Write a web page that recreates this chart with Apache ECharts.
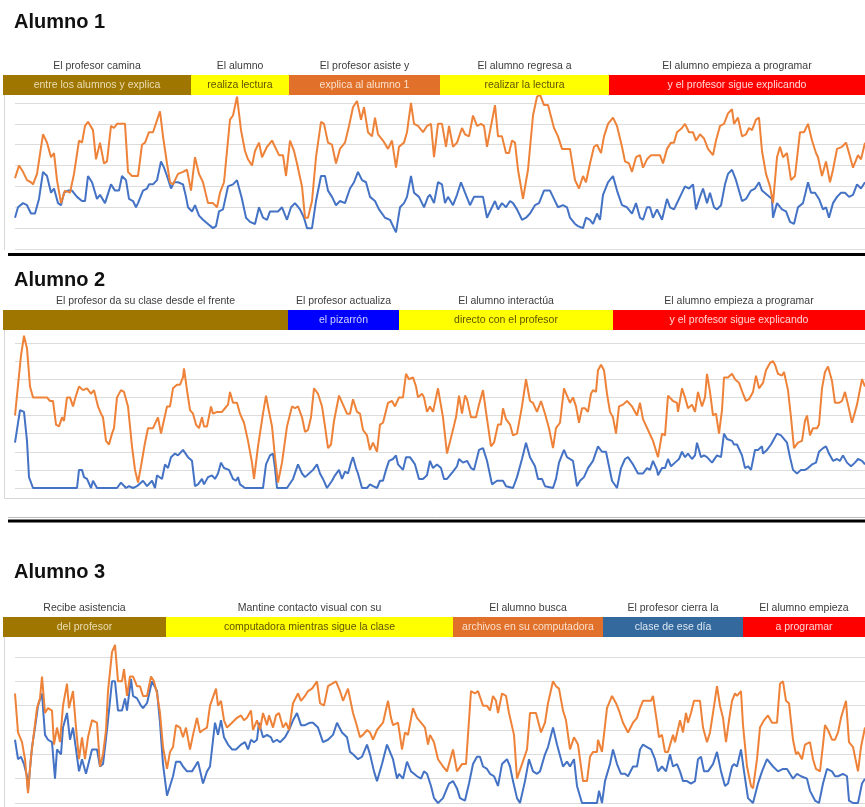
<!DOCTYPE html>
<html lang="es">
<head>
<meta charset="UTF-8">
<title>Alumnos</title>
<style>
    html, body { margin: 0; padding: 0; background: #fff; }
    #chart { width: 865px; height: 807px; }
</style>
</head>
<body>
<div id="chart"></div>
<script src="https://cdn.jsdelivr.net/npm/echarts@6/dist/echarts.min.js"></script>
<script>
// [tiempo, valor] por alumno; naranja = serie superior, azul = serie inferior
var orange1 = [[15,24],[19,30],[23,27],[27,23],[31,22],[33,21],[37,26],[43,45],[47,41],[51,34],[54,36],[57,23],[61,12],[65,18],[70,17],[74,26],[79,42],[82,41],[85,49],[88,51],[93,47],[96,33],[100,41],[104,31],[107,32],[111,49],[114,48],[117,50],[125,50],[128,27],[132,25],[138,25],[142,40],[145,41],[149,46],[153,46],[160,56],[163,44],[167,31],[170,22],[173,21],[178,26],[183,27],[187,28],[191,18],[195,34],[199,26],[203,22],[208,12],[213,12],[217,10],[220,17],[224,22],[230,52],[233,54],[237,63],[241,47],[245,37],[248,33],[252,30],[255,37],[259,41],[262,34],[267,39],[272,42],[275,39],[279,35],[283,35],[286,25],[290,42],[294,37],[297,31],[302,20],[305,5],[308,5],[312,13],[316,34],[321,51],[324,50],[328,41],[332,40],[336,31],[340,38],[345,41],[349,49],[353,58],[357,61],[361,52],[364,58],[368,46],[372,44],[375,53],[378,45],[383,42],[388,38],[392,42],[396,29],[399,39],[404,41],[407,46],[411,60],[414,50],[418,49],[423,46],[427,49],[431,50],[434,34],[438,50],[442,50],[446,39],[449,49],[453,39],[457,41],[462,48],[465,45],[469,44],[473,54],[477,49],[481,50],[484,49],[487,39],[495,59],[498,44],[502,44],[506,36],[509,36],[512,42],[515,41],[518,28],[523,14],[528,28],[533,54],[537,63],[540,64],[544,59],[548,59],[554,48],[558,44],[562,38],[567,38],[570,38],[575,23],[579,19],[583,25],[586,22],[590,31],[594,39],[597,40],[601,36],[604,44],[608,50],[613,53],[617,49],[622,39],[625,32],[629,31],[632,27],[636,34],[640,35],[643,29],[647,33],[651,35],[657,35],[660,35],[663,31],[667,38],[671,41],[674,41],[677,46],[682,48],[685,50],[689,46],[693,46],[696,42],[700,45],[704,43],[708,38],[713,35],[716,42],[720,49],[724,50],[728,55],[732,57],[734,50],[738,53],[742,44],[746,45],[749,48],[752,47],[756,52],[759,53],[762,37],[766,26],[770,20],[773,12],[777,34],[780,39],[783,34],[787,36],[791,23],[795,25],[800,46],[804,46],[808,50],[812,42],[816,36],[818,34],[822,25],[826,32],[830,22],[833,28],[837,38],[842,39],[846,41],[849,36],[853,29],[858,35],[861,33],[865,41]];
var blue1 = [[15,5],[18,10],[23,12],[27,11],[31,7],[35,7],[39,14],[43,27],[47,25],[51,17],[54,19],[58,12],[61,11],[64,17],[68,18],[72,18],[77,15],[82,13],[85,13],[88,25],[92,22],[97,14],[100,16],[105,12],[107,12],[111,21],[115,18],[119,18],[122,25],[126,23],[129,14],[133,13],[136,10],[138,12],[143,18],[147,19],[149,21],[153,21],[157,23],[161,32],[164,29],[167,25],[171,19],[174,22],[178,22],[183,21],[186,15],[188,10],[192,8],[195,11],[199,6],[203,4],[208,2],[213,0],[216,1],[219,8],[223,9],[228,20],[233,21],[237,23],[242,14],[246,5],[250,3],[255,2],[259,10],[263,5],[267,4],[270,8],[274,8],[278,8],[282,10],[287,4],[291,10],[295,12],[300,9],[304,5],[307,0],[312,0],[316,13],[321,25],[325,25],[328,18],[332,15],[336,11],[340,13],[345,12],[350,19],[354,22],[358,27],[362,23],[366,22],[370,15],[375,13],[379,9],[385,5],[390,4],[396,-2],[400,10],[404,12],[407,15],[411,25],[414,17],[419,15],[424,10],[428,15],[430,16],[434,12],[438,22],[442,21],[445,12],[448,15],[453,11],[457,16],[461,22],[465,17],[470,11],[474,15],[478,15],[483,15],[487,5],[492,10],[495,13],[498,9],[502,12],[506,10],[510,13],[513,12],[517,9],[522,4],[526,5],[530,7],[535,11],[539,12],[544,18],[550,18],[553,15],[558,10],[563,11],[567,10],[570,5],[575,2],[578,1],[583,0],[586,5],[590,4],[593,2],[597,7],[600,4],[603,16],[608,22],[613,25],[617,18],[622,11],[627,10],[632,7],[636,12],[640,5],[643,4],[647,10],[650,10],[653,5],[657,9],[662,4],[667,14],[670,10],[674,9],[678,13],[682,17],[685,20],[689,19],[693,21],[696,9],[700,15],[703,19],[707,12],[710,17],[714,10],[717,9],[721,11],[725,21],[728,26],[732,28],[736,23],[742,13],[746,14],[751,18],[755,19],[759,22],[762,18],[767,16],[772,14],[773,5],[777,12],[782,9],[786,8],[790,3],[794,2],[798,10],[803,12],[808,22],[811,17],[815,17],[819,14],[823,9],[826,10],[829,5],[833,12],[837,15],[841,17],[845,17],[849,15],[853,16],[857,21],[861,19],[865,22]];

var orange2 = [[15,40],[21,73],[24,84],[27,77],[30,56],[33,50],[47,50],[50,48],[53,48],[56,35],[59,34],[62,39],[64,37],[67,50],[70,50],[73,45],[76,51],[79,56],[83,54],[87,55],[91,52],[94,54],[98,45],[101,41],[103,39],[106,26],[109,24],[112,30],[114,33],[117,50],[121,54],[124,53],[128,45],[132,23],[135,10],[138,3],[141,12],[145,25],[148,33],[153,33],[155,33],[158,39],[161,30],[163,35],[167,45],[170,45],[173,55],[177,57],[180,57],[183,61],[184,66],[187,54],[190,43],[193,41],[196,35],[199,33],[202,39],[204,34],[207,34],[211,45],[213,41],[217,42],[222,42],[225,44],[228,46],[230,53],[233,47],[237,47],[240,41],[244,36],[248,26],[252,14],[254,5],[258,23],[263,41],[266,51],[268,45],[272,34],[275,17],[278,3],[282,14],[287,34],[289,35],[292,45],[295,44],[298,45],[302,39],[305,31],[308,32],[311,39],[314,55],[318,52],[322,45],[325,34],[328,22],[331,24],[334,37],[339,51],[343,46],[347,41],[350,41],[353,49],[357,42],[360,41],[363,32],[367,29],[370,21],[373,25],[377,20],[380,35],[383,36],[388,47],[392,48],[395,45],[399,50],[403,50],[406,63],[409,60],[413,61],[416,56],[418,50],[422,52],[424,50],[427,42],[430,45],[433,42],[438,55],[443,39],[447,19],[452,30],[456,39],[459,51],[462,41],[465,51],[467,49],[471,39],[476,39],[479,46],[483,54],[486,42],[491,23],[494,25],[498,35],[501,35],[503,44],[506,38],[510,35],[513,29],[517,30],[522,45],[526,60],[530,48],[533,47],[537,42],[541,48],[545,41],[549,33],[553,22],[556,33],[560,36],[564,55],[567,51],[570,47],[573,50],[576,45],[579,36],[582,44],[585,44],[588,42],[591,52],[593,54],[596,53],[598,65],[601,68],[604,65],[607,52],[610,42],[613,39],[616,30],[619,45],[623,46],[627,48],[632,45],[637,40],[640,47],[643,38],[648,32],[653,26],[658,17],[662,30],[665,29],[668,51],[673,48],[677,47],[678,42],[682,55],[685,50],[688,44],[692,46],[695,42],[698,53],[702,45],[705,50],[707,63],[710,53],[713,40],[716,41],[719,30],[722,43],[724,61],[728,61],[732,63],[735,60],[739,58],[743,52],[746,48],[749,49],[753,53],[756,62],[759,55],[763,58],[766,65],[770,69],[773,70],[775,68],[778,63],[782,62],[784,64],[788,54],[791,39],[794,22],[798,25],[802,26],[805,37],[807,40],[810,29],[813,33],[817,33],[819,35],[822,55],[825,64],[828,67],[832,59],[835,47],[839,47],[842,48],[845,53],[848,46],[852,36],[854,36],[857,46],[862,60],[865,56]];
var blue2 = [[15,25],[20,43],[24,42],[27,26],[29,6],[33,0],[77,0],[79,10],[82,10],[84,6],[87,5],[88,5],[91,0],[93,4],[97,0],[117,0],[121,3],[123,3],[126,0],[129,1],[133,0],[137,1],[139,0],[143,4],[147,1],[149,0],[152,4],[155,0],[157,7],[162,5],[165,13],[168,11],[171,17],[175,19],[178,18],[183,21],[188,17],[192,15],[195,1],[198,2],[202,5],[204,2],[208,6],[212,7],[215,5],[218,8],[221,14],[224,11],[229,10],[233,5],[236,4],[238,6],[240,2],[245,0],[263,0],[266,13],[270,18],[273,19],[275,11],[277,0],[287,0],[293,5],[298,13],[302,8],[305,6],[309,8],[313,10],[317,13],[320,8],[323,5],[327,0],[332,4],[335,7],[339,10],[342,5],[345,9],[348,8],[351,14],[353,17],[356,11],[358,8],[362,0],[367,0],[370,2],[373,1],[377,0],[380,4],[383,4],[386,10],[389,15],[393,16],[396,18],[398,13],[403,10],[406,17],[410,17],[415,13],[419,5],[423,5],[427,7],[430,15],[433,11],[437,13],[441,11],[444,5],[447,5],[453,9],[457,12],[459,16],[463,14],[467,15],[471,11],[474,10],[479,21],[483,22],[487,15],[492,2],[497,4],[503,4],[506,1],[513,0],[517,6],[522,16],[526,25],[530,17],[535,12],[538,5],[542,5],[545,1],[553,0],[556,5],[559,14],[564,21],[567,17],[573,15],[577,1],[580,4],[584,6],[588,11],[593,15],[598,23],[602,20],[606,20],[609,12],[612,4],[614,4],[617,0],[621,11],[625,16],[628,17],[633,13],[638,8],[643,8],[647,11],[650,10],[653,15],[657,10],[658,7],[662,11],[665,11],[668,16],[671,12],[675,14],[679,16],[682,20],[685,17],[688,19],[692,16],[695,18],[697,25],[701,17],[704,18],[707,17],[712,14],[714,15],[717,18],[721,17],[724,30],[727,27],[732,26],[734,24],[737,24],[742,18],[745,11],[748,12],[751,10],[755,21],[758,21],[762,23],[763,19],[767,21],[771,24],[774,27],[777,30],[781,29],[783,30],[787,25],[790,17],[793,10],[797,8],[801,10],[805,10],[808,11],[812,13],[816,14],[819,20],[823,22],[826,23],[829,19],[833,15],[837,16],[840,15],[843,18],[847,14],[851,12],[855,14],[858,16],[862,15],[865,13]];

var orange3 = [[15,45],[18,29],[22,25],[25,18],[28,4],[31,19],[34,29],[37,39],[40,43],[42,52],[45,37],[48,39],[52,38],[54,24],[57,31],[60,25],[63,40],[67,49],[69,39],[73,46],[76,31],[79,18],[82,27],[85,18],[88,27],[92,34],[97,33],[100,15],[103,20],[106,30],[108,46],[112,62],[115,65],[118,50],[122,50],[124,55],[127,44],[130,52],[133,52],[137,48],[140,48],[143,44],[147,44],[151,52],[154,50],[157,45],[160,37],[163,23],[167,14],[170,21],[173,23],[176,32],[180,31],[183,27],[186,31],[190,22],[193,28],[197,35],[200,29],[203,30],[207,31],[210,40],[216,47],[218,40],[221,42],[224,34],[227,31],[232,33],[237,35],[241,36],[244,34],[247,35],[251,38],[253,30],[257,34],[260,30],[263,37],[267,32],[269,36],[273,31],[276,36],[279,37],[283,31],[286,33],[289,30],[293,41],[298,45],[301,42],[305,44],[308,46],[312,47],[317,50],[320,41],[324,40],[328,48],[336,50],[340,46],[343,42],[348,47],[353,37],[356,33],[360,27],[363,28],[367,30],[370,29],[373,26],[377,30],[383,33],[388,42],[391,35],[393,32],[398,33],[402,22],[405,29],[408,28],[413,39],[417,35],[421,33],[425,31],[428,24],[430,28],[434,25],[438,18],[443,15],[447,13],[449,16],[453,22],[457,13],[462,16],[466,16],[471,46],[475,45],[478,46],[483,40],[487,40],[490,38],[493,44],[496,42],[498,37],[502,45],[506,44],[509,37],[514,28],[517,10],[522,16],[527,22],[530,37],[536,37],[541,29],[545,33],[548,41],[553,50],[556,48],[559,47],[563,38],[566,34],[570,22],[574,27],[578,24],[583,9],[587,9],[590,19],[593,21],[597,21],[598,26],[602,21],[607,39],[612,44],[616,41],[619,38],[623,33],[628,29],[633,33],[637,35],[640,39],[643,42],[647,42],[651,42],[653,44],[657,33],[659,27],[662,28],[665,21],[668,21],[673,28],[675,25],[680,34],[683,29],[686,37],[688,33],[691,37],[694,42],[700,42],[703,31],[707,25],[710,29],[713,37],[717,48],[720,40],[723,35],[726,25],[729,34],[732,42],[735,45],[737,44],[741,46],[743,32],[747,15],[751,7],[753,6],[757,18],[760,31],[764,34],[768,36],[772,33],[777,33],[780,49],[783,50],[786,42],[789,41],[793,26],[796,20],[798,21],[802,18],[805,24],[810,25],[813,18],[816,14],[820,13],[823,24],[825,32],[828,30],[832,26],[835,26],[838,29],[841,35],[846,42],[849,25],[853,23],[858,13],[861,23],[865,31]];
var blue3 = [[15,26],[18,18],[21,19],[24,16],[27,11],[28,5],[32,23],[35,31],[38,40],[42,45],[45,28],[48,26],[52,25],[55,10],[57,22],[61,20],[63,31],[67,37],[70,26],[73,31],[76,22],[79,13],[82,18],[86,12],[88,12],[92,22],[97,22],[100,15],[103,16],[107,30],[112,50],[115,50],[118,38],[122,38],[125,43],[127,38],[131,51],[133,44],[137,43],[141,40],[143,39],[147,41],[152,50],[154,50],[157,46],[160,33],[163,16],[167,3],[170,7],[173,11],[176,17],[180,17],[183,15],[187,13],[192,13],[195,15],[198,17],[203,8],[207,13],[210,15],[215,33],[218,28],[221,34],[224,27],[228,24],[232,22],[236,22],[241,24],[245,25],[248,22],[251,26],[254,25],[257,26],[259,33],[263,27],[267,28],[271,27],[273,25],[277,26],[280,25],[285,27],[289,30],[293,34],[297,37],[301,32],[305,32],[310,33],[313,33],[318,31],[323,25],[328,26],[333,28],[337,33],[342,29],[347,27],[350,21],[353,20],[358,18],[362,19],[367,24],[370,20],[374,13],[377,9],[382,16],[387,24],[391,20],[393,18],[397,10],[399,12],[403,10],[407,17],[411,13],[414,12],[417,11],[421,10],[424,13],[427,12],[431,7],[434,2],[438,0],[443,2],[447,6],[449,8],[453,9],[457,6],[460,2],[465,1],[469,8],[473,16],[477,19],[480,19],[483,15],[487,14],[490,12],[494,11],[498,7],[502,16],[507,18],[510,15],[513,9],[517,2],[520,0],[525,9],[529,18],[533,13],[537,12],[540,13],[545,20],[548,23],[553,31],[557,24],[561,18],[563,15],[567,17],[570,15],[574,18],[577,7],[582,0],[597,0],[599,5],[602,0],[605,9],[610,16],[613,22],[617,16],[621,12],[625,12],[628,11],[633,15],[637,15],[640,22],[643,24],[647,23],[651,22],[655,18],[658,13],[662,15],[666,13],[670,20],[673,15],[677,16],[680,13],[683,9],[687,9],[691,8],[695,9],[698,18],[701,19],[704,13],[708,13],[713,16],[717,21],[721,13],[725,7],[728,8],[732,15],[734,16],[737,15],[741,22],[744,13],[748,2],[753,0],[758,8],[762,13],[767,18],[773,15],[778,13],[783,14],[787,14],[789,14],[793,10],[797,12],[801,11],[807,10],[810,5],[815,1],[819,0],[823,8],[827,14],[832,13],[835,11],[838,11],[843,12],[847,11],[849,1],[853,0],[858,0],[862,8],[865,10]];

// fases de la clase (mismo eje de tiempo)
var bandStart1 = [3, 191, 289, 440, 609];
var bandEnd1 = [191, 289, 440, 609, 865];
var bandKind1 = ['cafe', 'amarillo', 'naranja', 'amarillo', 'rojo'];
var bandUpper1 = ['El profesor camina', 'El alumno', 'El profesor asiste y', 'El alumno regresa a', 'El alumno empieza a programar'];
var bandInner1 = ['entre los alumnos y explica', 'realiza lectura', 'explica al alumno 1', 'realizar la lectura', 'y el profesor sigue explicando'];

var bandStart2 = [3, 288, 399, 613];
var bandEnd2 = [288, 399, 613, 865];
var bandKind2 = ['cafe', 'azul', 'amarillo', 'rojo'];
var bandUpper2 = ['El profesor da su clase desde el frente', 'El profesor actualiza', 'El alumno interactúa', 'El alumno empieza a programar'];
var bandInner2 = ['', 'el pizarrón', 'directo con el profesor', 'y el profesor sigue explicando'];

var bandStart3 = [3, 166, 453, 603, 743];
var bandEnd3 = [166, 453, 603, 743, 865];
var bandKind3 = ['cafe', 'amarillo', 'naranja', 'acero', 'rojo'];
var bandUpper3 = ['Recibe asistencia', 'Mantine contacto visual con su', 'El alumno busca', 'El profesor cierra la', 'El alumno empieza'];
var bandInner3 = ['del profesor', 'computadora mientras sigue la clase', 'archivos en su computadora', 'clase de ese día', 'a programar'];

var BAND_FILL = {cafe: '#9F7700', amarillo: '#FFFF00', naranja: '#E0702A', rojo: '#FF0000', azul: '#0000FF', acero: '#34699D'};
var BAND_TEXT = {cafe: '#EADDB4', amarillo: '#5E5400', naranja: '#FCE0CC', rojo: '#FFD6D6', azul: '#D0D0FF', acero: '#DCE6F2'};
var FONT = '10.5px "Liberation Sans", Arial, sans-serif';

var panels = [
    {title: 'Alumno 1', titleTop: 12, top: 103, height: 146, min: -10, max: 60, gap: 28,
        orange: orange1, blue: blue1, start: bandStart1, end: bandEnd1, kind: bandKind1, upper: bandUpper1, inner: bandInner1},
    {title: 'Alumno 2', titleTop: 270, top: 343, height: 145, min: 0, max: 80, gap: 33,
        orange: orange2, blue: blue2, start: bandStart2, end: bandEnd2, kind: bandKind2, upper: bandUpper2, inner: bandInner2},
    {title: 'Alumno 3', titleTop: 562, top: 657, height: 146, min: 0, max: 60, gap: 40,
        orange: orange3, blue: blue3, start: bandStart3, end: bandEnd3, kind: bandKind3, upper: bandUpper3, inner: bandInner3}
];

function bandRenderer(p) {
    return function (params, api) {
        var k = params.dataIndex;
        var x0 = api.coord([api.value(0), p.min])[0];
        var x1 = api.coord([api.value(1), p.min])[0];
        var top = params.coordSys.y - p.gap;
        var cx = (x0 + x1) / 2;
        return {
            type: 'group',
            children: [
                {type: 'rect', shape: {x: x0, y: top, width: x1 - x0, height: 20}, style: {fill: BAND_FILL[p.kind[k]]}},
                {type: 'text', x: cx, y: top + 10, style: {text: p.inner[k], fill: BAND_TEXT[p.kind[k]], font: FONT, align: 'center', verticalAlign: 'middle'}},
                {type: 'text', x: cx, y: top - 9, style: {text: p.upper[k], fill: '#3c3c3c', font: FONT, align: 'center', verticalAlign: 'middle'}}
            ]
        };
    };
}

var grids = [], xAxes = [], yAxes = [], series = [], titles = [];
panels.forEach(function (p, i) {
    titles.push({text: p.title, left: 14, top: p.titleTop, padding: 0,
        textStyle: {fontFamily: 'Liberation Sans', fontSize: 20, fontWeight: 'bold', color: '#111'}});
    grids.push({left: 15, width: 850, top: p.top, height: p.height, outerBoundsMode: 'none'});
    xAxes.push({type: 'value', gridIndex: i, min: 15, max: 865, show: false});
    yAxes.push({type: 'value', gridIndex: i, min: p.min, max: p.max, interval: 10,
        axisLine: {show: false}, axisTick: {show: false}, axisLabel: {show: false},
        splitLine: {show: true, lineStyle: {color: '#dcdcdc', width: 1}}});
    series.push({type: 'line', xAxisIndex: i, yAxisIndex: i, data: p.blue, symbol: 'none', clip: false,
        lineStyle: {color: '#4472C4', width: 2}, itemStyle: {color: '#4472C4'}, z: 3});
    series.push({type: 'line', xAxisIndex: i, yAxisIndex: i, data: p.orange, symbol: 'none', clip: false,
        lineStyle: {color: '#ED8238', width: 2}, itemStyle: {color: '#ED8238'}, z: 4});
    series.push({type: 'custom', xAxisIndex: i, yAxisIndex: i, silent: true, z: 6,
        data: p.start.map(function (s, k) { return [s, p.end[k]]; }),
        renderItem: bandRenderer(p)});
});

var chart = echarts.init(document.getElementById('chart'));
chart.setOption({
    animation: false,
    title: titles,
    grid: grids,
    xAxis: xAxes,
    yAxis: yAxes,
    series: series,
    graphic: [
        {type: 'line', shape: {x1: 4.5, y1: 95, x2: 4.5, y2: 250}, style: {stroke: '#d8d8d8', lineWidth: 1}},
        {type: 'line', shape: {x1: 8, y1: 254.5, x2: 865, y2: 254.5}, style: {stroke: '#000', lineWidth: 3}},
        {type: 'line', shape: {x1: 4.5, y1: 330, x2: 4.5, y2: 498}, style: {stroke: '#d8d8d8', lineWidth: 1}},
        {type: 'line', shape: {x1: 4, y1: 498.5, x2: 865, y2: 498.5}, style: {stroke: '#d8d8d8', lineWidth: 1}},
        {type: 'line', shape: {x1: 8, y1: 517.5, x2: 865, y2: 517.5}, style: {stroke: '#bbb', lineWidth: 1}},
        {type: 'line', shape: {x1: 8, y1: 521, x2: 865, y2: 521}, style: {stroke: '#000', lineWidth: 3}},
        {type: 'line', shape: {x1: 4.5, y1: 637, x2: 4.5, y2: 807}, style: {stroke: '#d8d8d8', lineWidth: 1}}
    ]
});
</script>
</body>
</html>
